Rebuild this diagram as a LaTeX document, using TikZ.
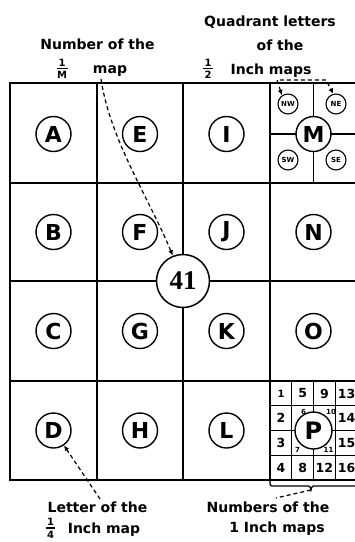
\documentclass[tikz,border=0pt]{standalone}
\usepackage{fontspec}
\setsansfont{DejaVu Sans}
\setmainfont{Liberation Serif}
\usetikzlibrary{arrows.meta}
\begin{document}
\begin{tikzpicture}[x=1pt,y=-1pt,
  grid/.style={line width=1.6pt},
  thin grid/.style={line width=1.3pt},
  letc/.style={circle,draw,line width=1.4pt,fill=white,minimum size=35pt,inner sep=0pt,font=\sffamily\bfseries\fontsize{22}{22}\selectfont},
  quadc/.style={circle,draw,line width=1.1pt,fill=white,minimum size=20pt,inner sep=0pt,font=\sffamily\bfseries\fontsize{7}{7}\selectfont},
  lab/.style={anchor=base,inner sep=0pt,font=\sffamily\bfseries\fontsize{14}{14}\selectfont},
  fracn/.style={inner sep=0pt,font=\sffamily\bfseries\fontsize{10}{10}\selectfont},
  pnum/.style={inner sep=0pt,font=\sffamily\bfseries\fontsize{12.5}{12.5}\selectfont},
  psmall/.style={inner sep=0pt,font=\sffamily\bfseries\fontsize{7}{7}\selectfont},
  lead/.style={line width=1.2pt,dash pattern=on 4pt off 3pt},
  tip/.style={-{Latex[length=5.5pt,width=5pt]}},
]
\useasboundingbox (0,0) rectangle (355,542);
\clip (0,0) rectangle (355,542);
% main grid
\draw[grid] (10,83) rectangle (357,480);
\foreach \x in {97,183,270} \draw[grid] (\x,83) -- (\x,480);
\foreach \y in {183,281,381} \draw[grid] (10,\y) -- (357,\y);
% M quadrant lines
\draw[thin grid] (313.5,83) -- (313.5,183);
\draw[thin grid] (270,134) -- (357,134);
% P sub-grid
\foreach \x in {291.75,313.5,335.25} \draw[thin grid] (\x,381) -- (\x,480);
\foreach \y in {405.75,430.5,455.25} \draw[thin grid] (270,\y) -- (357,\y);
% letter circles
\node[letc] (A) at (53.5,134) {A};
\node[letc] (E) at (140,134) {E};
\node[letc] (I) at (226.5,134) {I};
\node[letc] (M) at (313.5,134) {M};
\node[letc] (B) at (53.5,232) {B};
\node[letc] (F) at (140,232) {F};
\node[letc] (J) at (226.5,232) {J};
\node[letc] (N) at (313.5,232) {N};
\node[letc] (C) at (53.5,331) {C};
\node[letc] (G) at (140,331) {G};
\node[letc] (K) at (226.5,331) {K};
\node[letc] (O) at (313.5,331) {O};
\node[letc] (D) at (53.5,430.5) {D};
\node[letc] (H) at (140,430.5) {H};
\node[letc] (L) at (226.5,430.5) {L};
\node[letc,minimum size=37pt,font=\sffamily\bfseries\fontsize{24}{24}\selectfont] (P) at (313.5,430.5) {P};
% 41
\node[circle,draw,line width=1.5pt,fill=white,minimum size=53pt,inner sep=0pt,font=\rmfamily\bfseries\fontsize{27}{27}\selectfont] (C41) at (183,281) {41};
% quadrant circles
\node[quadc] (NW) at (288,104) {NW};
\node[quadc] (NE) at (336,104) {NE};
\node[quadc] (SW) at (288,160) {SW};
\node[quadc] (SE) at (336,160) {SE};
% P numbers
\node[pnum,font=\sffamily\bfseries\fontsize{10}{10}\selectfont] (n1) at (281,393.5) {1};
\node[pnum] (n2) at (281,418) {2};
\node[pnum] (n3) at (281,443) {3};
\node[pnum] (n4) at (281,468) {4};
\node[pnum] (n5) at (302.6,393.5) {5};
\node[pnum] (n8) at (302.6,468) {8};
\node[pnum] (n9) at (324.4,393.5) {9};
\node[pnum] (n12) at (324.4,468) {12};
\node[pnum] (n13) at (346.5,393.5) {13};
\node[pnum] (n14) at (346.5,418) {14};
\node[pnum] (n15) at (346.5,443) {15};
\node[pnum] (n16) at (346.5,468) {16};
\node[psmall] (n6) at (303.5,411.5) {6};
\node[psmall] (n10) at (331,411.5) {10};
\node[psmall] (n7) at (297.5,450) {7};
\node[psmall] (n11) at (328.5,450) {11};
% top-left label
\node[lab] (numlab) at (97.5,49) {Number of the};
\node[fracn] (mnum) at (62,63) {1};
\draw[line width=1.1pt] (56.5,68.5) -- (67.5,68.5);
\node[fracn] (mden) at (62,74.5) {M};
\node[lab] (maplab) at (110,73) {map};
% top-right label
\node[lab] (quadlab) at (270,26.5) {Quadrant letters};
\node[lab] (oflab) at (280,50) {of the};
\node[fracn] (hnum) at (208,63) {1};
\draw[line width=1.1pt] (203,68.5) -- (213,68.5);
\node[fracn] (hden) at (208,74.5) {2};
\node[lab] (inchlab) at (271,74) {Inch maps};
% bottom-left label
\node[lab] (letlab) at (97.5,512) {Letter of the};
\node[fracn] (qnum) at (50.5,521.5) {1};
\draw[line width=1.1pt] (46,528) -- (55,528);
\node[fracn] (qden) at (50.5,535) {4};
\node[lab] (qinch) at (104,533) {Inch map};
% bottom-right label
\node[lab] (numslab) at (268,512) {Numbers of the};
\node[lab] (oneinch) at (277,532) {1 Inch maps};
% leaders
\coordinate (mapend) at (101,79);
\draw[lead,tip] (mapend) .. controls (110,140) and (150,200) .. (C41.112);
\draw[lead,{Latex[length=5.5pt,width=5pt]}-{Latex[length=5.5pt,width=5pt]}] (NW.125) -- (277,80) -- (326,80) -- (NE.105);
\coordinate (letend) at (100,499);
\draw[lead,tip] (letend) -- (D.-55);
% brace under P cell
\coordinate (btip) at (311,490);
\draw[line width=1.3pt] (270,481) .. controls (270,486) .. (275,486) -- (306,486) .. controls (310,486) .. (btip) .. controls (312,486) .. (316,486) -- (357,486);
\coordinate (bend) at (276,498);
\draw[lead] (btip) -- (bend);
\end{tikzpicture}
\end{document}
